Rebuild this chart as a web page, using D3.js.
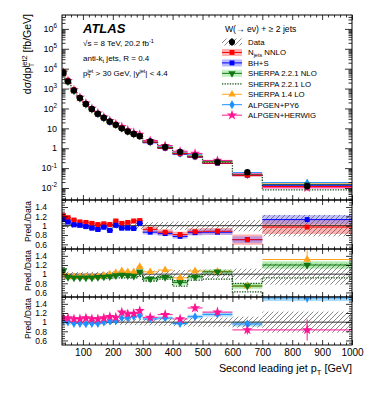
<!DOCTYPE html>
<html>
<head>
<meta charset="utf-8">
<script src="https://cdn.jsdelivr.net/npm/d3@7"></script>
<style>
  body { margin: 0; background: #fff; }
  svg { display: block; font-family: "Liberation Sans", Arial, Helvetica, sans-serif; }
</style>
</head>
<body>
<div id="chart"></div>
<script>
// second leading jet pT bins [GeV]
const binEdges = [30, 40, 60, 80, 100, 120, 140, 160, 180, 200, 220, 240, 260, 280, 300, 350, 400, 450, 500, 600, 700, 1000];

// measured cross section [fb/GeV] and relative uncertainty
const dataXsec = [6000, 2300, 810, 340, 170, 95, 55, 34, 22, 15, 10, 7.0, 5.2, 4.0, 2.2, 1.17, 0.66, 0.42, 0.20, 0.062, 0.0123];
const dataRelUnc = [0.05, 0.05, 0.045, 0.045, 0.05, 0.05, 0.05, 0.055, 0.055, 0.06, 0.06, 0.065, 0.065, 0.07, 0.075, 0.08, 0.09, 0.1, 0.1, 0.12, 0.23];

// Pred./Data ratios
const njetsRatio = [1.215, 1.17, 1.12, 1.08, 1.07, 1.05, 1.025, 1.04, 1.025, 1.10, 1.05, 1.07, 1.10, 1.11, 0.92, 0.86, 0.81, 0.87, 0.88, 0.70, 0.97];
const njetsUnc = [0.05, 0.05, 0.05, 0.05, 0.05, 0.05, 0.05, 0.05, 0.05, 0.05, 0.05, 0.05, 0.05, 0.05, 0.06, 0.06, 0.06, 0.07, 0.07, 0.11, 0.15];
const bhsRatio = [1.13, 1.08, 1.02, 1.01, 0.98, 0.95, 0.92, 0.97, 0.90, 1.01, 0.95, 0.95, 0.94, 1.05, 0.86, 0.83, 0.77, 0.85, 0.86, 0.70, 1.13];
const bhsUnc = [0.04, 0.04, 0.04, 0.04, 0.04, 0.04, 0.04, 0.04, 0.04, 0.04, 0.04, 0.04, 0.04, 0.05, 0.05, 0.05, 0.05, 0.06, 0.06, 0.07, 0.1];

const sherpaNloRatio = [1.08, 0.93, 0.92, 0.92, 0.92, 0.92, 0.93, 0.94, 0.95, 0.97, 0.98, 0.97, 0.96, 1.05, 0.90, 0.93, 0.82, 0.94, 1.05, 0.74, 1.20];
const sherpaNloUnc = [0.04, 0.03, 0.03, 0.03, 0.03, 0.03, 0.03, 0.03, 0.03, 0.03, 0.03, 0.03, 0.04, 0.04, 0.04, 0.04, 0.05, 0.05, 0.05, 0.06, 0.08];
const sherpaLoLow = [0.95, 0.90, 0.90, 0.90, 0.90, 0.90, 0.90, 0.90, 0.91, 0.92, 0.92, 0.93, 0.92, 0.95, 0.85, 0.89, 0.74, 0.87, 0.89, 0.61, 0.40];
const sherpaLoHigh = [1.05, 0.96, 0.95, 0.95, 0.95, 0.95, 0.96, 0.97, 0.97, 0.99, 0.99, 1.00, 1.00, 1.03, 0.93, 0.95, 0.86, 0.95, 0.99, 0.80, 0.92];
const sherpa14Ratio = [1.0, 0.945, 0.945, 0.945, 0.945, 0.945, 0.95, 0.97, 0.995, 1.03, 1.07, 1.05, 1.05, 1.16, 1.05, 1.09, 0.92, 1.07, 1.06, 0.74, 1.32];
const sherpa14Err = [0.02, 0.02, 0.02, 0.02, 0.02, 0.02, 0.02, 0.03, 0.03, 0.03, 0.03, 0.04, 0.04, 0.04, 0.04, 0.05, 0.05, 0.06, 0.06, 0.1, 0.2];

const alpPy6Ratio = [1.03, 1.0, 0.97, 0.97, 0.96, 0.97, 0.97, 1.0, 1.02, 1.03, 1.09, 1.09, 1.12, 1.14, 1.07, 1.09, 0.97, 1.12, 1.17, 0.96, 1.53];
const alpPy6Err = [0.02, 0.02, 0.02, 0.02, 0.02, 0.02, 0.02, 0.02, 0.03, 0.03, 0.03, 0.03, 0.04, 0.04, 0.04, 0.05, 0.05, 0.06, 0.07, 0.08, 0.1];
const alpHwRatio = [1.09, 1.09, 1.07, 1.07, 1.09, 1.07, 1.07, 1.09, 1.12, 1.105, 1.215, 1.18, 1.19, 1.25, 1.105, 1.165, 1.07, 1.31, 1.22, 0.83, 0.83];
const alpHwErr = [0.02, 0.02, 0.02, 0.02, 0.02, 0.02, 0.02, 0.03, 0.03, 0.03, 0.04, 0.04, 0.04, 0.05, 0.05, 0.05, 0.06, 0.08, 0.08, 0.1, 0.23];

const mainTicks = [1e-2, 1e-1, 1, 10, 1e2, 1e3, 1e4, 1e5, 1e6];
const ratioTicks = [0.6, 0.8, 1, 1.2, 1.4];

const W = 374, H = 396;
const left = 62, right = 352;
const mainTop = 15, mainBot = 200;
const panels = [[200, 249], [249, 297], [297, 345]];

const svg = d3.select("#chart").append("svg").attr("width", W).attr("height", H);

const x = d3.scaleLinear().domain([30, 1000]).range([left, right]);
const yMain = d3.scaleLog().domain([2.5e-3, 5e6]).range([mainBot, mainTop]);
const yRatio = panels.map(([t, b]) => d3.scaleLinear().domain([0.5, 1.55]).range([b, t]));

const bins = binEdges.slice(0, -1).map((lo, i) => ({ i, lo, hi: binEdges[i + 1], c: (lo + binEdges[i + 1]) / 2 }));

const defs = svg.append("defs");
defs.append("pattern").attr("id", "hatch").attr("patternUnits", "userSpaceOnUse")
  .attr("width", 5).attr("height", 5)
  .append("path").attr("d", "M0,5 L5,0 M-1,1 L1,-1 M4,6 L6,4")
  .attr("stroke", "#555").attr("stroke-width", 0.7);
defs.append("clipPath").attr("id", "clip-main").append("rect")
  .attr("x", left).attr("y", mainTop).attr("width", right - left).attr("height", mainBot - mainTop);
panels.forEach(([t, b], k) => {
  defs.append("clipPath").attr("id", "clip-r" + k).append("rect")
    .attr("x", left).attr("y", t).attr("width", right - left).attr("height", b - t);
});

function measure(str, size) {
  const t = svg.append("text").attr("font-size", size).text(str);
  const w = t.node().getComputedTextLength();
  t.remove();
  return w;
}

// parts: plain strings or {sub, sup}
function richText(parent, parts, size) {
  const text = parent.append("text").attr("font-size", size).attr("fill", "#000");
  const small = size * 0.7, up = size * 0.42, down = size * 0.28;
  let shift = 0, dx = 0;
  parts.forEach(p => {
    if (typeof p === "string") {
      text.append("tspan").attr("dx", dx).attr("dy", -shift).text(p);
      shift = 0; dx = 0;
      return;
    }
    if (p.sup !== undefined) {
      text.append("tspan").attr("font-size", small).attr("dx", dx).attr("dy", -up - shift).text(p.sup);
      shift = -up; dx = 0;
    }
    if (p.sub !== undefined) {
      const back = p.sup !== undefined ? -measure(p.sup, small) : 0;
      text.append("tspan").attr("font-size", small).attr("dx", back).attr("dy", down - shift).text(p.sub);
      shift = down;
      if (p.sup !== undefined) dx = Math.max(0, measure(p.sup, small) - measure(p.sub, small));
    }
  });
  return text;
}

const colors = {
  red: "#ff0000", redBand: "#ff7070",
  blue: "#0000ff", blueBand: "#8080ff",
  green: "#117711", greenBand: "#8fe38f",
  lo: "#0d4d0d",
  orange: "#ffa31a",
  py6: "#1e90ff", py6Band: "#87cefa",
  hw: "#ff1493"
};

function marker(g, type, size, color, cx, cy, flip) {
  g.append("path")
    .attr("d", d3.symbol().type(type).size(size)())
    .attr("transform", `translate(${cx},${cy})` + (flip ? " rotate(180)" : ""))
    .attr("fill", color);
}

function band(g, yS, vals, unc, fill, op) {
  g.selectAll(null).data(bins).join("rect")
    .attr("x", d => x(d.lo))
    .attr("width", d => x(d.hi) - x(d.lo))
    .attr("y", d => yS(vals[d.i] + unc[d.i]))
    .attr("height", d => yS(vals[d.i] - unc[d.i]) - yS(vals[d.i] + unc[d.i]))
    .attr("fill", fill).attr("opacity", op);
}

function points(g, yS, vals, err, color, type, size, flip) {
  bins.forEach(d => {
    const v = vals[d.i];
    if (isNaN(v)) return;
    g.append("line").attr("x1", x(d.lo)).attr("x2", x(d.hi))
      .attr("y1", yS(v)).attr("y2", yS(v)).attr("stroke", color).attr("stroke-width", 1);
    if (err) {
      g.append("line").attr("x1", x(d.c)).attr("x2", x(d.c))
        .attr("y1", yS(v - err[d.i])).attr("y2", yS(v + err[d.i])).attr("stroke", color).attr("stroke-width", 1);
    }
    marker(g, type, size, color, x(d.c), yS(v), flip);
  });
}

function stepLine(g, yS, vals, color) {
  const pts = [];
  bins.forEach(d => { pts.push([x(d.lo), yS(vals[d.i])]); pts.push([x(d.hi), yS(vals[d.i])]); });
  g.append("path").attr("d", d3.line()(pts)).attr("fill", "none")
    .attr("stroke", color).attr("stroke-width", 1.3).attr("stroke-dasharray", "1.3,1.3");
}

function styleAxis(g) {
  g.select(".domain").remove();
  g.selectAll(".tick line").attr("stroke", "#000").attr("stroke-width", 0.8);
  g.selectAll(".tick text").attr("fill", "#000").attr("font-family", null);
}

// x ticks on top and bottom of a panel
function xTicks(top, bot, withLabels) {
  const major = d3.range(100, 1001, 100);
  const minor = d3.range(40, 1000, 20).filter(v => v % 100 !== 0);
  [[d3.axisBottom, bot], [d3.axisTop, top]].forEach(([ax, pos], j) => {
    const gMaj = svg.append("g").attr("transform", `translate(0,${pos})`)
      .call(ax(x).tickValues(major).tickSize(-5).tickPadding(4)
        .tickFormat(withLabels && j === 0 ? d3.format("d") : ""));
    styleAxis(gMaj);
    gMaj.attr("font-size", 10);
    const gMin = svg.append("g").attr("transform", `translate(0,${pos})`)
      .call(ax(x).tickValues(minor).tickSize(-2.5).tickFormat(""));
    styleAxis(gMin);
  });
}

function frame(top, bot) {
  svg.append("rect").attr("x", left).attr("y", top).attr("width", right - left).attr("height", bot - top)
    .attr("fill", "none").attr("stroke", "#000").attr("stroke-width", 1);
}

// ---------- main panel ----------
const gMain = svg.append("g").attr("clip-path", "url(#clip-main)");
const scaled = arr => arr.map((r, i) => r * dataXsec[i]);

band(gMain, yMain, scaled(njetsRatio), njetsUnc.map((u, i) => u * dataXsec[i]), colors.redBand, 0.5);
band(gMain, yMain, scaled(bhsRatio), bhsUnc.map((u, i) => u * dataXsec[i]), colors.blueBand, 0.5);
band(gMain, yMain, scaled(sherpaNloRatio), sherpaNloUnc.map((u, i) => u * dataXsec[i]), colors.greenBand, 0.6);
stepLine(gMain, yMain, scaled(sherpaLoHigh.map((h, i) => (h + sherpaLoLow[i]) / 2)), colors.lo);
points(gMain, yMain, scaled(sherpa14Ratio), null, colors.orange, d3.symbolTriangle, 22);
points(gMain, yMain, scaled(alpPy6Ratio), null, colors.py6, d3.symbolDiamond, 18);
points(gMain, yMain, scaled(alpHwRatio), null, colors.hw, d3.symbolStar, 30);
points(gMain, yMain, scaled(sherpaNloRatio), null, colors.green, d3.symbolTriangle, 22, true);
points(gMain, yMain, scaled(bhsRatio), null, colors.blue, d3.symbolSquare, 20);
points(gMain, yMain, scaled(njetsRatio), null, colors.red, d3.symbolSquare, 20);
bins.forEach(d => {
  const v = dataXsec[d.i], u = dataRelUnc[d.i];
  gMain.append("line").attr("x1", x(d.c)).attr("x2", x(d.c))
    .attr("y1", yMain(v * (1 - u))).attr("y2", yMain(v * (1 + u))).attr("stroke", "#000");
  marker(gMain, d3.symbolCircle, 32, "#000", x(d.c), yMain(v));
});

frame(mainTop, mainBot);
xTicks(mainTop, mainBot, false);

// log y ticks
const minorLog = [];
for (let e = -3; e <= 6; e++) for (let m = 2; m <= 9; m++) {
  const v = m * Math.pow(10, e);
  if (v > 2.5e-3 && v < 5e6) minorLog.push(v);
}
[[d3.axisLeft, left], [d3.axisRight, right]].forEach(([ax, pos]) => {
  styleAxis(svg.append("g").attr("transform", `translate(${pos},0)`)
    .call(ax(yMain).tickValues(mainTicks).tickSize(-7).tickFormat("")));
  styleAxis(svg.append("g").attr("transform", `translate(${pos},0)`)
    .call(ax(yMain).tickValues(minorLog).tickSize(-3.5).tickFormat("")));
});
mainTicks.forEach(v => {
  const e = Math.round(Math.log10(v));
  const parts = e === 0 ? ["1"] : e === 1 ? ["10"] : ["10", { sup: String(e) }];
  richText(svg, parts, 9).attr("x", 57).attr("y", yMain(v) + 3.2).attr("text-anchor", "end");
});
richText(svg, ["dσ/dp", { sub: "T", sup: "jet2" }, " [fb/GeV]"], 10.5)
  .attr("text-anchor", "end")
  .attr("transform", "translate(31,14) rotate(-90)");

// ---------- ratio panels ----------
panels.forEach(([t, b], k) => {
  const yS = yRatio[k];
  const g = svg.append("g").attr("clip-path", `url(#clip-r${k})`);
  if (k === 0) {
    band(g, yS, njetsRatio, njetsUnc, colors.redBand, 0.55);
    band(g, yS, bhsRatio, bhsUnc, colors.blueBand, 0.5);
  } else if (k === 1) {
    band(g, yS, sherpaNloRatio, sherpaNloUnc, colors.greenBand, 0.7);
    stepLine(g, yS, sherpaLoHigh, colors.lo);
    stepLine(g, yS, sherpaLoLow, colors.lo);
  } else {
    band(g, yS, alpPy6Ratio, alpPy6Err.map(e => e * 0.7), colors.py6Band, 0.7);
  }
  // data uncertainty (hatched) and unity line
  band(g, yS, dataXsec.map(() => 1), dataRelUnc, "url(#hatch)", 1);
  g.append("line").attr("x1", left).attr("x2", right).attr("y1", yS(1)).attr("y2", yS(1))
    .attr("stroke", "#222").attr("stroke-width", 0.9);
  if (k === 0) {
    points(g, yS, bhsRatio, null, colors.blue, d3.symbolSquare, 24);
    points(g, yS, njetsRatio, null, colors.red, d3.symbolSquare, 24);
    // keep blue on top where they overlap at low pT
    points(g, yS, bhsRatio.slice(0, 14).concat(bhsRatio.slice(14).map(() => NaN)), null, colors.blue, d3.symbolSquare, 24);
  } else if (k === 1) {
    points(g, yS, sherpa14Ratio, sherpa14Err, colors.orange, d3.symbolTriangle, 26);
    points(g, yS, sherpaNloRatio, null, colors.green, d3.symbolTriangle, 26, true);
  } else {
    points(g, yS, alpPy6Ratio, alpPy6Err, colors.py6, d3.symbolDiamond, 22);
    points(g, yS, alpHwRatio, alpHwErr, colors.hw, d3.symbolStar, 34);
  }

  frame(t, b);
  xTicks(t, b, k === 2);
  const minorR = d3.range(0.55, 1.551, 0.05).filter(v => Math.abs(v * 5 - Math.round(v * 5)) > 1e-6);
  [[d3.axisLeft, left], [d3.axisRight, right]].forEach(([ax, pos], j) => {
    const gy = svg.append("g").attr("transform", `translate(${pos},0)`)
      .call(ax(yS).tickValues(ratioTicks).tickSize(-6).tickPadding(15)
        .tickFormat(j === 0 ? (v => v === 1 ? "1" : d3.format(".1f")(v)) : ""));
    styleAxis(gy);
    gy.attr("font-size", 8.5);
    styleAxis(svg.append("g").attr("transform", `translate(${pos},0)`)
      .call(ax(yS).tickValues(minorR).tickSize(-3).tickFormat("")));
  });
  svg.append("text").attr("font-size", 8.6).attr("text-anchor", "end")
    .attr("transform", `translate(31,${t + 1}) rotate(-90)`).text("Pred./Data");
});

// x axis title
richText(svg, ["Second leading jet p", { sub: "T" }, " [GeV]"], 10.8)
  .attr("x", 352).attr("y", 372).attr("text-anchor", "end");

// ---------- labels ----------
svg.append("text").attr("x", 83).attr("y", 32.5).attr("font-size", 13)
  .attr("font-weight", "bold").attr("font-style", "italic").text("ATLAS");
richText(svg, ["√s = 8 TeV, 20.2 fb", { sup: "-1" }], 8).attr("x", 83).attr("y", 46);
richText(svg, ["anti-k", { sub: "t" }, " jets, R = 0.4"], 8).attr("x", 83).attr("y", 61);
richText(svg, ["p", { sub: "T", sup: "jet" }, " > 30 GeV, |y", { sup: "jet" }, "| < 4.4"], 8).attr("x", 83).attr("y", 76);

// ---------- legend ----------
const legend = svg.append("g");
richText(legend, ["W(→ eν) + ≥ 2 jets"], 8.6).attr("x", 225).attr("y", 32);
const legendItems = [
  { label: ["Data"], kind: "data" },
  { label: ["N", { sub: "jets" }, " NNLO"], color: colors.red, bandColor: colors.redBand, type: d3.symbolSquare },
  { label: ["BH+S"], color: colors.blue, bandColor: colors.blueBand, type: d3.symbolSquare },
  { label: ["SHERPA 2.2.1 NLO"], color: colors.green, bandColor: colors.greenBand, type: d3.symbolTriangle, flip: true },
  { label: ["SHERPA 2.2.1 LO"], kind: "dotted" },
  { label: ["SHERPA 1.4 LO"], color: colors.orange, type: d3.symbolTriangle },
  { label: ["ALPGEN+PY6"], color: colors.py6, type: d3.symbolDiamond },
  { label: ["ALPGEN+HERWIG"], color: colors.hw, type: d3.symbolStar }
];
legendItems.forEach((it, k) => {
  const cy = 42 + k * 10.45;
  const x0 = 222, x1 = 242, cx = 232;
  if (it.kind === "data") {
    legend.append("rect").attr("x", x0).attr("y", cy - 3.5).attr("width", x1 - x0).attr("height", 7).attr("fill", "url(#hatch)");
    legend.append("line").attr("x1", cx).attr("x2", cx).attr("y1", cy - 4).attr("y2", cy + 4).attr("stroke", "#000");
    marker(legend, d3.symbolCircle, 30, "#000", cx, cy);
  } else if (it.kind === "dotted") {
    legend.append("line").attr("x1", x0).attr("x2", x1).attr("y1", cy).attr("y2", cy)
      .attr("stroke", colors.lo).attr("stroke-width", 1.3).attr("stroke-dasharray", "1.3,1.3");
  } else {
    if (it.bandColor) {
      legend.append("rect").attr("x", x0).attr("y", cy - 3.5).attr("width", x1 - x0).attr("height", 7)
        .attr("fill", it.bandColor).attr("opacity", 0.55);
    }
    legend.append("line").attr("x1", x0).attr("x2", x1).attr("y1", cy).attr("y2", cy).attr("stroke", it.color);
    marker(legend, it.type, it.type === d3.symbolStar ? 34 : 24, it.color, cx, cy, it.flip);
  }
  richText(legend, it.label, 7.8).attr("x", 248).attr("y", cy + 2.8);
});
</script>
</body>
</html>
